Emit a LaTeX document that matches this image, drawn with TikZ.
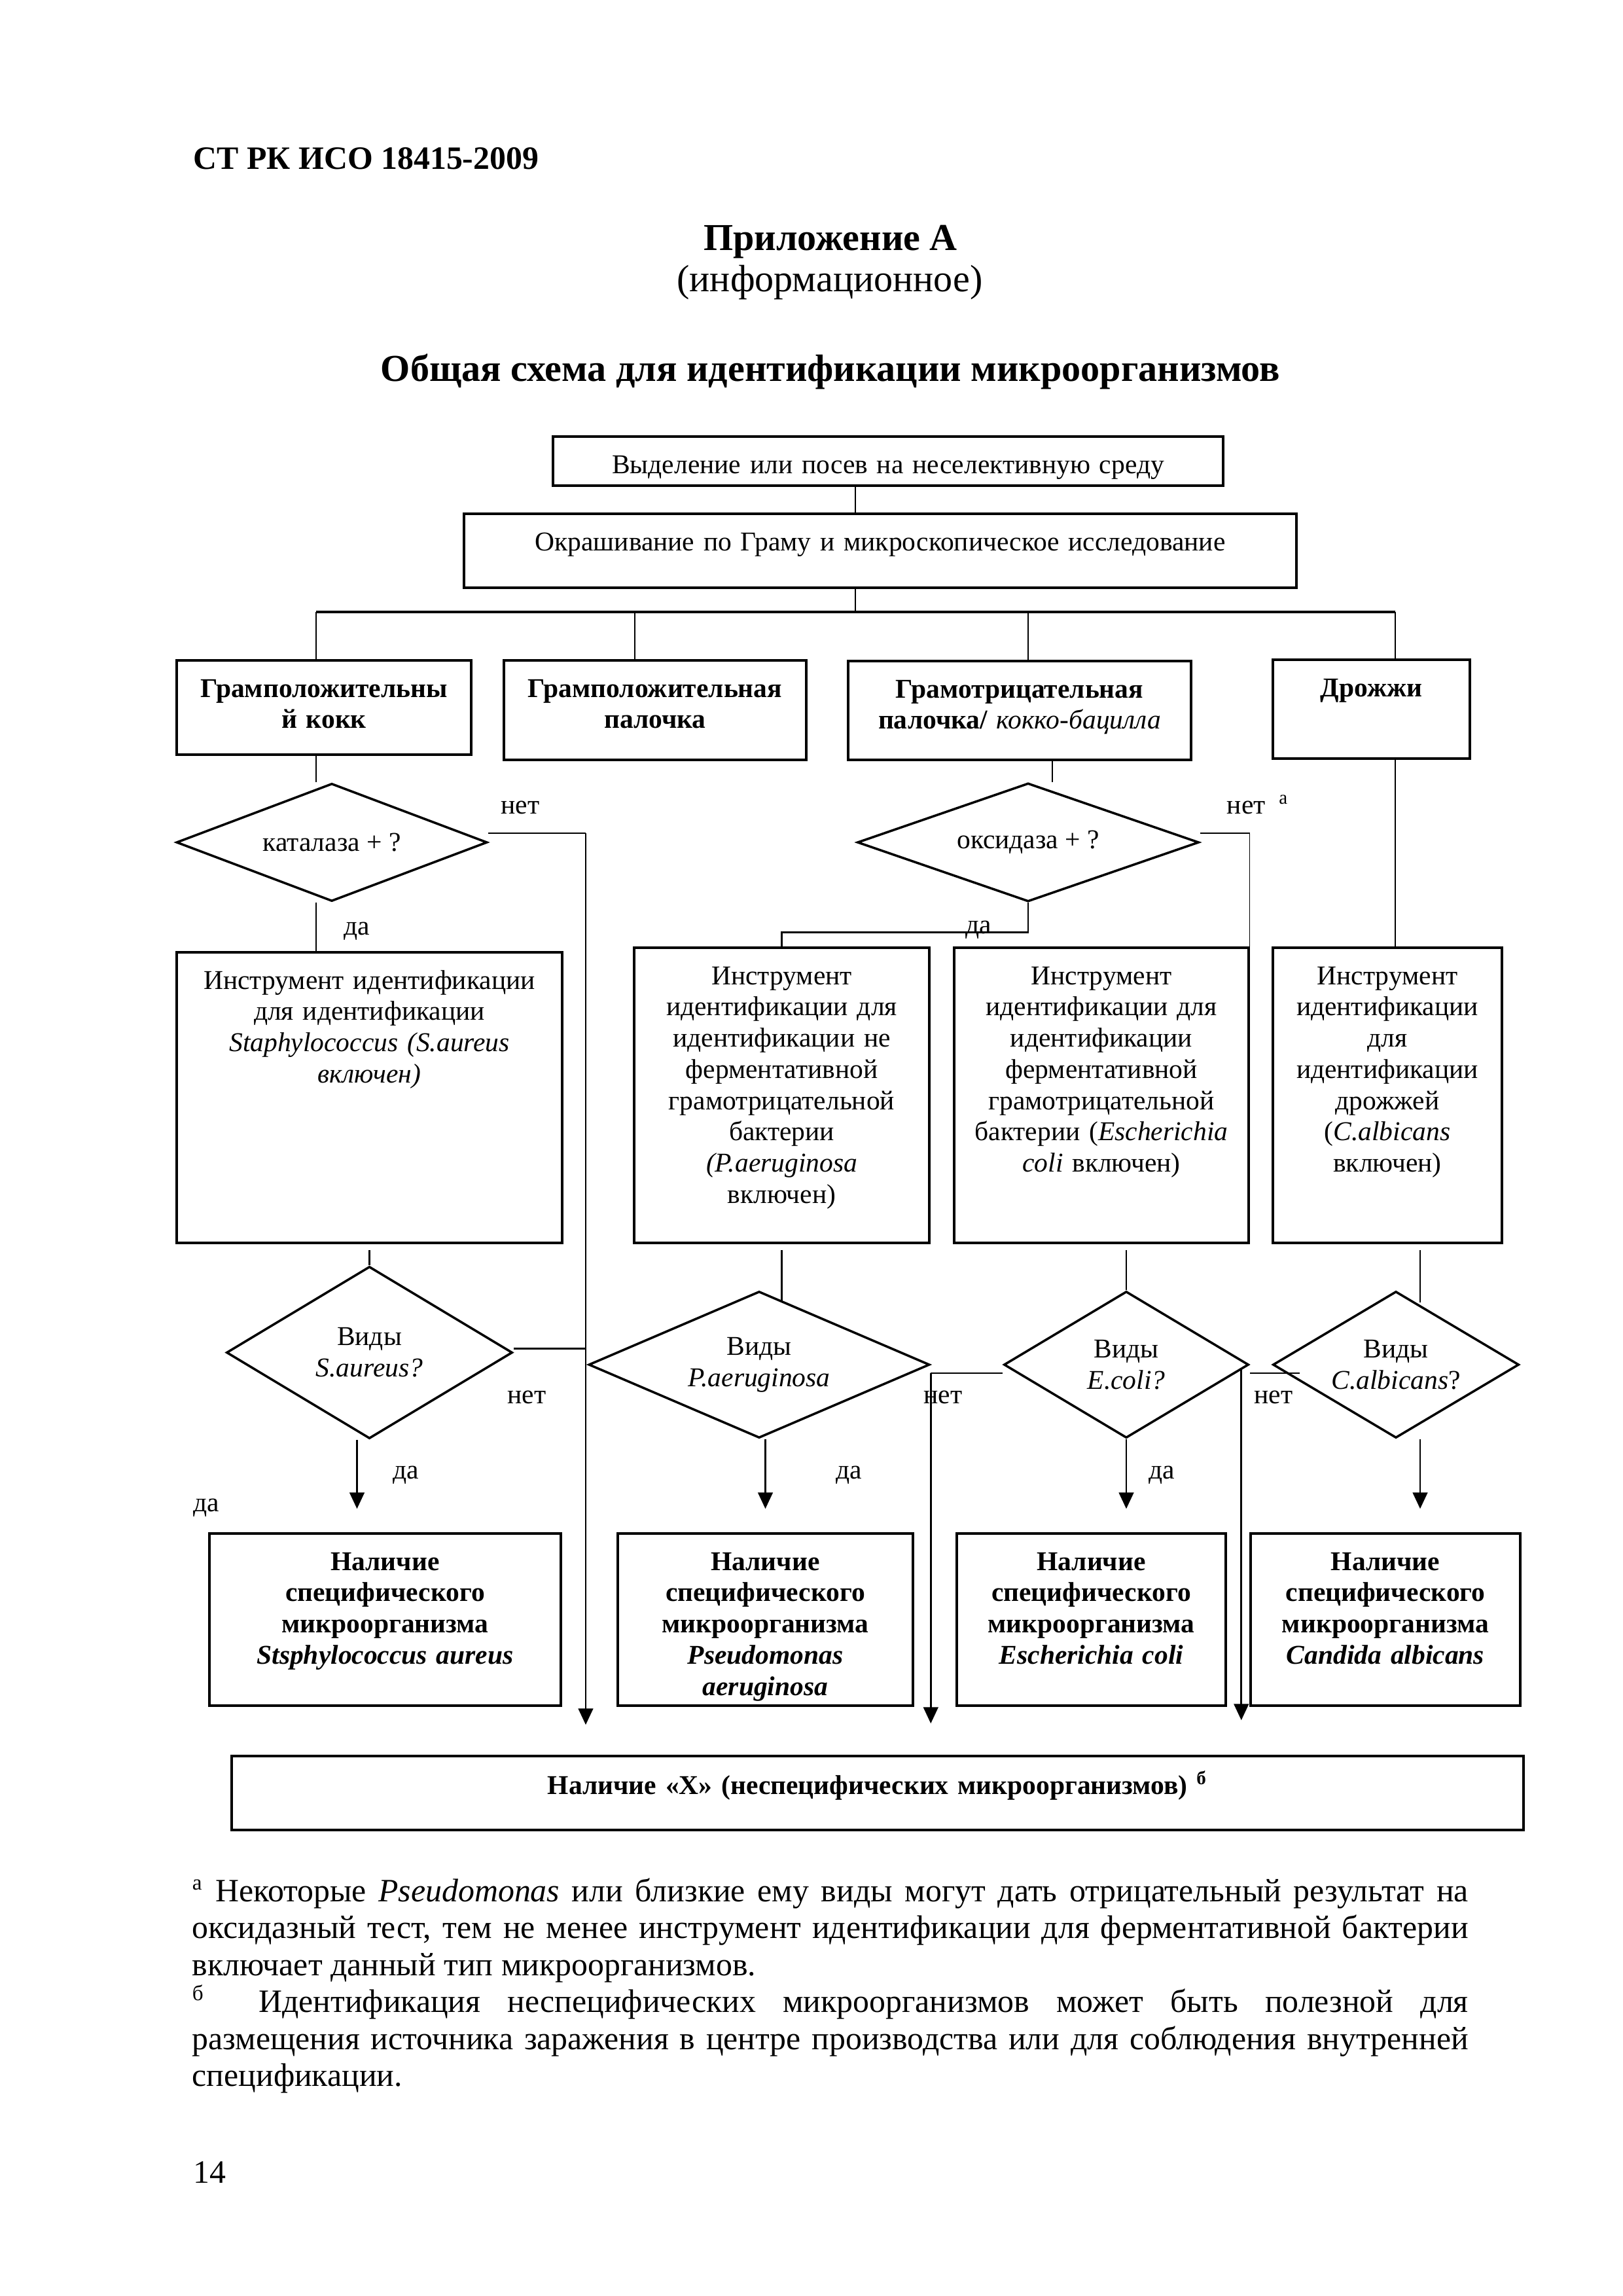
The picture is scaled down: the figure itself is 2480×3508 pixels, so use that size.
\documentclass[tikz,border=0pt]{standalone}
\usepackage{fontspec}
\setmainfont{Liberation Serif}
\usetikzlibrary{shapes.geometric,arrows.meta}

\newcommand{\pxu}{0.084677mm}
\newcommand{\diagfont}{\fontsize{10}{11.5}\selectfont}

\begin{document}
\begin{tikzpicture}[x=0.084677mm, y=-0.084677mm,
        box/.style={rectangle, draw, line width=0.85pt, inner sep=0pt},
        boxtext/.style={anchor=north, yshift=-2mm, align=center, inner sep=0pt, font=\diagfont, execute at begin node=\strut},
        boldtext/.style={boxtext, font=\diagfont\bfseries},
        decision/.style={diamond, draw, line width=0.85pt, inner sep=0pt, align=center, font=\diagfont},
        conn/.style={line width=0.7pt},
        bus/.style={line width=1pt},
        thinline/.style={line width=0.3pt},
        arr/.style={line width=0.7pt, -{Triangle[length=2.1mm, width=1.9mm]}},
        lbl/.style={font=\diagfont, inner sep=0pt, text height=1.5ex, text depth=.25ex}]
    \fill[white] (0,0) rectangle (2480,3508);
    \useasboundingbox (0,0) rectangle (2480,3508);

    % page head
    \node (docid) [anchor=base west, inner sep=0pt, font=\fontsize{12}{13.8}\selectfont\bfseries] at (295,258) {СТ РК ИСО 18415-2009};
    \node (annex) [anchor=base, inner sep=0pt, font=\fontsize{14}{16}\selectfont\bfseries] at (1269,382) {Приложение А};
    \node (annextype) [anchor=base, inner sep=0pt, font=\fontsize{14}{16}\selectfont] at (1268,445) {(информационное)};
    \node (title) [anchor=base, inner sep=0pt, font=\fontsize{14}{16}\selectfont\bfseries] at (1269,582) {Общая схема для идентификации микроорганизмов};

    % top of the scheme
    \node (isol) [box, minimum width=1024*\pxu, minimum height=75*\pxu] at (1357,704.5) {};
    \node [boxtext, text width=1024*\pxu] at (isol.north) {Выделение или посев на неселективную среду};
    \node (gram) [box, minimum width=1272*\pxu, minimum height=113*\pxu] at (1345,841.5) {};
    \node [boxtext, text width=1272*\pxu] at (gram.north) {Окрашивание по Граму и микроскопическое исследование};

    \coordinate (trunk) at (1307,935);
    \coordinate (b1) at (483,935);
    \coordinate (b2) at (970,935);
    \coordinate (b3) at (1571,935);
    \coordinate (b4) at (2132,935);

    % groups
    \node (gpc) [box, minimum width=450*\pxu, minimum height=144*\pxu] at (495,1081) {};
    \node [boldtext, text width=450*\pxu] at (gpc.north) {Грамположительны\\й кокк};
    \node (gpr) [box, minimum width=462*\pxu, minimum height=152*\pxu] at (1001,1085) {};
    \node [boldtext, text width=462*\pxu] at (gpr.north) {Грамположительная\\палочка};
    \node (gnr) [box, minimum width=524*\pxu, minimum height=151*\pxu] at (1558,1085.5) {};
    \node [boldtext, text width=524*\pxu] at (gnr.north) {Грамотрицательная\\палочка/ {\mdseries\itshape кокко-бацилла}};
    \node (yeast) [box, minimum width=301*\pxu, minimum height=151*\pxu] at (2095.5,1083.5) {};
    \node [boldtext, text width=301*\pxu] at (yeast.north) {Дрожжи};

    % first tests
    \node (cat) [decision, aspect=2.64, minimum width=475*\pxu, minimum height=180*\pxu] at (507,1287) {каталаза + ?};
    \node (oxi) [decision, aspect=2.88, minimum width=522*\pxu, minimum height=181*\pxu] at (1571,1287) {оксидаза + ?};

    % identification tools
    \node (tool1) [box, minimum width=589*\pxu, minimum height=444*\pxu] at (564.5,1677) {};
    \node [boxtext, text width=589*\pxu] at (tool1.north) {Инструмент идентификации\\для идентификации\\\textit{Staphylococcus (S.aureus}\\\textit{включен)}};
    \node (tool2) [box, minimum width=451*\pxu, minimum height=451*\pxu] at (1194.5,1673.5) {};
    \node [boxtext, text width=451*\pxu] at (tool2.north) {Инструмент\\идентификации для\\идентификации не\\ферментативной\\грамотрицательной\\бактерии\\\textit{(P.aeruginosa}\\включен)};
    \node (tool3) [box, minimum width=450*\pxu, minimum height=451*\pxu] at (1683,1673.5) {};
    \node [boxtext, text width=450*\pxu] at (tool3.north) {Инструмент\\идентификации для\\идентификации\\ферментативной\\грамотрицательной\\бактерии (\textit{Escherichia}\\\textit{coli} включен)};
    \node (tool4) [box, minimum width=350*\pxu, minimum height=451*\pxu] at (2120,1673.5) {};
    \node [boxtext, text width=350*\pxu] at (tool4.north) {Инструмент\\идентификации\\для\\идентификации\\дрожжей\\(\textit{C.albicans}\\включен)};

    % species tests
    \node (dsa) [decision, aspect=1.66, minimum width=437*\pxu, minimum height=263*\pxu] at (564.5,2066.5) {Виды\\\textit{S.aureus?}};
    \node (dpa) [decision, aspect=2.33, minimum width=521*\pxu, minimum height=224*\pxu] at (1160,2085) {Виды\\\textit{P.aeruginosa}};
    \node (dec) [decision, aspect=1.67, minimum width=374*\pxu, minimum height=224*\pxu] at (1721,2085) {Виды\\\textit{E.coli?}};
    \node (dca) [decision, aspect=1.68, minimum width=376*\pxu, minimum height=224*\pxu] at (2133,2085) {Виды\\\textit{C.albicans}?};

    % results
    \node (res1) [box, minimum width=537*\pxu, minimum height=263*\pxu] at (588.5,2474.5) {};
    \node [boldtext, text width=537*\pxu] at (res1.north) {Наличие\\специфического\\микроорганизма\\\textit{Stsphylococcus aureus}};
    \node (res2) [box, minimum width=451*\pxu, minimum height=263*\pxu] at (1169.5,2474.5) {};
    \node [boldtext, text width=451*\pxu] at (res2.north) {Наличие\\специфического\\микроорганизма\\\textit{Pseudomonas}\\\textit{aeruginosa}};
    \node (res3) [box, minimum width=411*\pxu, minimum height=263*\pxu] at (1667.5,2474.5) {};
    \node [boldtext, text width=411*\pxu] at (res3.north) {Наличие\\специфического\\микроорганизма\\\textit{Escherichia coli}};
    \node (res4) [box, minimum width=412*\pxu, minimum height=263*\pxu] at (2117,2474.5) {};
    \node [boldtext, text width=412*\pxu] at (res4.north) {Наличие\\специфического\\микроорганизма\\\textit{Candida albicans}};
    \node (xbox) [box, minimum width=1974*\pxu, minimum height=113*\pxu] at (1341,2739.5) {};
    \node [boldtext, text width=1974*\pxu] at (xbox.north) {Наличие «X» (неспецифических микроорганизмов) \textsuperscript{б}};

    % connectors
    \draw[conn] (trunk |- isol.south) -- (trunk |- gram.north);
    \draw[conn] (trunk |- gram.south) -- (trunk);
    \draw[bus] (b1) -- (b4);
    \foreach \b/\n in {b1/gpc, b2/gpr, b3/gnr, b4/yeast}
        \draw[conn] (\b) -- (\b |- \n.north);
    \draw[conn] (b1 |- gpc.south) -- (b1 |- cat.north);
    \draw[conn] (b1 |- cat.south) -- (b1 |- tool1.north);
    \coordinate (nx1) at (895,1273);
    \draw[conn] ([yshift=14*\pxu]cat.east) -- (nx1);
    \draw[arr, shorten >=46*\pxu] (nx1) -- (nx1 |- xbox.north);

    \coordinate (gx) at ([xshift=50*\pxu]gnr.south);
    \draw[conn] (gx) -- (gx |- oxi.north);
    \draw[conn] (oxi.south) -- ++(0,45) -| (tool2.north);
    \coordinate (ox) at ([yshift=14*\pxu]oxi.east);
    \draw[conn] (ox) -- (ox -| tool3.east);
    \draw[thinline] (ox -| tool3.east) -- (tool3.north east);
    \draw[conn] (b4 |- yeast.south) -- (b4 |- tool4.north);

    \draw[conn] ([yshift=-9*\pxu]tool1.south) -- (dsa.north);
    \draw[conn] ([yshift=-9*\pxu]tool2.south) -- ++(0,80);
    \draw[conn] ([yshift=-9*\pxu]tool3.south -| dec.north) -- (dec.north);
    \coordinate (t4s) at ([xshift=50*\pxu, yshift=-9*\pxu]tool4.south);
    \draw[conn] (t4s) -- ++(0,80);

    \coordinate (ys1) at ([xshift=-19*\pxu]dsa.south);
    \draw[arr, shorten >=36*\pxu] (ys1) -- (ys1 |- res1.north);
    \draw[arr, shorten >=36*\pxu] (dpa.south -| res2.north) -- (res2.north);
    \draw[arr, shorten >=36*\pxu] (dec.south) -- (dec.south |- res3.north);
    \draw[arr, shorten >=36*\pxu] (dca.south -| t4s) -- (t4s |- res4.north);

    \draw[conn] ([yshift=6*\pxu]dsa.east) -- ([yshift=6*\pxu]dsa.east -| nx1);
    \coordinate (pn) at ([yshift=-13*\pxu]dpa.east);
    \draw[conn] (pn) -- (pn -| dec.west);
    \draw[arr, shorten >=48*\pxu] (pn) -- (pn |- xbox.north);
    \coordinate (en) at ([yshift=-13*\pxu]dec.east);
    \draw[conn] (en) -- ++(76,0);
    \coordinate (ed) at ([xshift=-13*\pxu, yshift=-8*\pxu]dec.east);
    \draw[arr, shorten >=53*\pxu] (ed) -- (ed |- xbox.north);

    % yes / no labels
    \node[lbl] at (795,1232) {нет};
    \node[lbl] at (545,1417) {да};
    \node[lbl, anchor=west] at (1874,1232) {нет\enspace\textsuperscript{а}};
    \node[lbl] at (1495,1415) {да};
    \node[lbl] at (805,2133) {нет};
    \node[lbl] at (620,2248) {да};
    \node[lbl] at (315,2298) {да};
    \node[lbl] at (1441,2133) {нет};
    \node[lbl] at (1297,2248) {да};
    \node[lbl] at (1946,2133) {нет};
    \node[lbl] at (1775,2248) {да};

    % footnotes
    \node (notes) [anchor=north west, inner sep=0pt, text width=1950*\pxu, align=justify,
        font=\fontsize{12}{13.6}\selectfont] at (293,2865) {\hyphenpenalty=10000\strut
        \textsuperscript{а} Некоторые \textit{Pseudomonas} или близкие ему виды могут дать отрицательный результат на\break
        оксидазный тест, тем не менее инструмент идентификации для ферментативной бактерии\break
        включает данный тип микроорганизмов.\par
        \textsuperscript{б}\ \ Идентификация неспецифических микроорганизмов может быть полезной для\break
        размещения источника заражения в центре производства или для соблюдения внутренней\break
        спецификации.};
    \node (pagenum) [anchor=base west, inner sep=0pt, font=\fontsize{12}{13.8}\selectfont] at (295,3335) {14};
\end{tikzpicture}
\end{document}
